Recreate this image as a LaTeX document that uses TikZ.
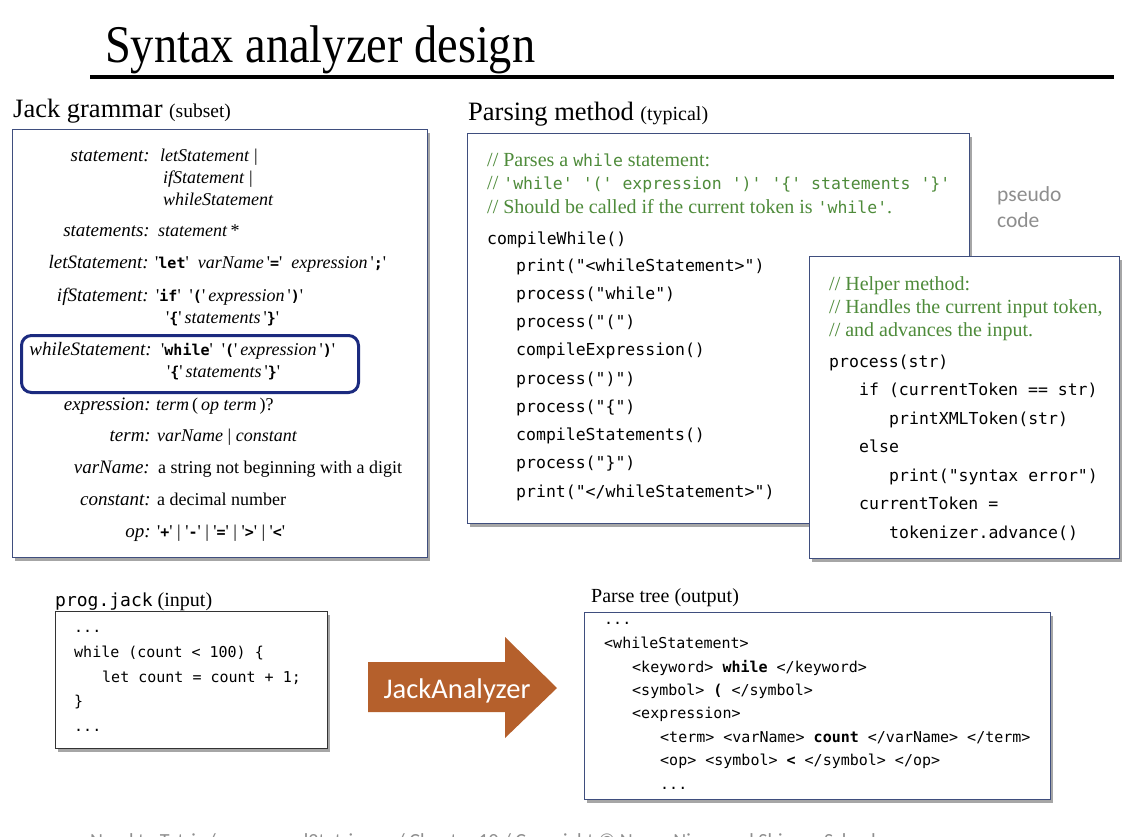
\documentclass[tikz,border=0pt]{standalone}
\usepackage{fontspec}
\setmainfont{Liberation Serif}[Ligatures=TeXOff]
\newfontfamily\cmono{DejaVu Sans Mono}[Ligatures=TeXOff]
\newfontfamily\csans{Carlito}[Ligatures=TeXOff]
\usetikzlibrary{shadows}
\definecolor{boxline}{HTML}{3F4E7E}
\definecolor{navy}{HTML}{1B2A7F}
\definecolor{cgreen}{HTML}{4E8B3A}
\definecolor{rust}{HTML}{B5602C}
\definecolor{pgray}{HTML}{8E8E8E}
\newcommand\mygfont{\fontsize{18}{21}\selectfont}
\newcommand\mylfont{\fontsize{19}{22}\selectfont}
\newcommand\mycomfont{\fontsize{20}{23}\selectfont}
\newcommand\mycm{\cmono\fontsize{16.5}{20}\selectfont}
\newcommand\mysm{\cmono\fontsize{15}{18}\selectfont}
\newcommand\kw[1]{{\cmono\bfseries\fontsize{15}{18}\selectfont #1}}
\tikzset{
  panel/.style={draw=boxline, line width=1.1pt, fill=white, inner sep=0pt, anchor=north west,
    drop shadow={shadow xshift=2.5pt, shadow yshift=-3pt, opacity=0.35, fill=black}},
  t/.style={inner sep=0pt, anchor=base west},
  gl/.style={inner sep=0pt, anchor=base east, font=\mylfont\itshape},
  gr/.style={t, font=\mygfont},
  com/.style={t, font=\mycomfont, text=cgreen},
  code/.style={t, font=\mycm},
  scode/.style={t, font=\mysm},
  head/.style={t, font=\fontsize{26.5}{30}\selectfont},
}
\begin{document}
\begin{tikzpicture}[x=1pt,y=-1pt]
\fill[white] (0,0) rectangle (1144,836);
\useasboundingbox (0,0) rectangle (1144,836);

% title
\node[t] (title) at (105,62) {\scalebox{0.875}[1]{\fontsize{53}{60}\selectfont Syntax analyzer design}};
\coordinate (rl) at (90,77);
\coordinate (rr) at (1114,77);
\draw[line width=3.5pt] (rl) -- (rr);

% headings
\node[head] (hg) at (13,117) {Jack grammar {\fontsize{19.5}{22}\selectfont (subset)}};
\node[head] (hp) at (468,120) {Parsing method {\fontsize{20}{22}\selectfont (typical)}};

% grammar box
\node[panel, minimum width=415pt, minimum height=428pt] (gbox) at (12,129) {};
\node[gl] (g1) at (150,161) {statement:};
\node[gr] (g1a) at (160,161) {\textit{letStatement} |};
\node[gr] (g1b) at (163,183) {\textit{ifStatement} |};
\node[gr] (g1c) at (163,205) {\textit{whileStatement}};
\node[gl] (g2) at (150,236) {statements:};
\node[gr] (g2a) at (158,236) {\textit{statement}\,*};
\node[gl] (g3) at (149,268) {letStatement:};
\node[gr] (g3a) at (155,268) {'\kw{let}'\ \ \textit{varName}\,'\kw{=}'\ \ \textit{expression}\,'\kw{;}'};
\node[gl] (g4) at (149,301) {ifStatement:};
\node[gr] (g4a) at (156,301) {'\kw{if}'\ \ '\kw{(}'\,\textit{expression}\,'\kw{)}'};
\node[gr] (g4b) at (166,323) {'\kw{\{}'\,\textit{statements}\,'\kw{\}}'};
\node[draw=navy, line width=3pt, rounded corners=10pt, minimum width=337pt, minimum height=57pt, anchor=north west, inner sep=0pt] (hl) at (20,334) {};
\node[gl] (g5) at (152,355) {whileStatement:};
\node[gr] (g5a) at (161,355) {'\kw{while}'\ \ '\kw{(}'\,\textit{expression}\,'\kw{)}'};
\node[gr] (g5b) at (167,377) {'\kw{\{}'\,\textit{statements}\,'\kw{\}}'};
\node[gl] (g6) at (151,410) {expression:};
\node[gr] (g6a) at (156,410) {\textit{term}\,(\,\textit{op term}\,)?};
\node[gl] (g7) at (151,441) {term:};
\node[gr] (g7a) at (157,441) {\textit{varName} | \textit{constant}};
\node[gl] (g8) at (150,473) {varName:};
\node[gr] (g8a) at (158,473) {a string not beginning with a digit};
\node[gl] (g9) at (151,505) {constant:};
\node[gr] (g9a) at (157,505) {a decimal number};
\node[gl] (g10) at (151,537) {op:};
\node[gr] (g10a) at (157,537) {'\kw{+}' | '\kw{-}' | '\kw{=}' | '\kw{>}' | '\kw{<}'};

% parsing method box
\node[panel, minimum width=502pt, minimum height=390pt] (pbox) at (467,133) {};
\node[com] (c1) at (487,166) {// Parses a {\mycm while} statement:};
\node[com] (c2) at (487,189) {// {\mycm 'while' '(' expression ')' '\{' statements '\}'}};
\node[com] (c3) at (487,213) {// Should be called if the current token is {\mycm 'while'}.};
\node[code] (cw) at (487,244) {compileWhile()};
\foreach \s [count=\i from 0] in {print("<whileStatement>"), process("while"), process("("),
  compileExpression(), process(")"), process("\{"), compileStatements(), process("\}"),
  print("</whileStatement>")}
  \node[code] (pl\i) at (516,{271+28.25*\i}) {\s};

% pseudo code label
\node[t, font=\csans\fontsize{21.5}{24}\selectfont, text=pgray] (ps1) at (997,201) {pseudo};
\node[t, font=\csans\fontsize{21.5}{24}\selectfont, text=pgray] (ps2) at (997,227) {code};

% helper box
\node[panel, minimum width=310pt, minimum height=302pt] (hbox) at (809,256) {};
\node[com] (h1) at (829,290) {// Helper method:};
\node[com] (h2) at (829,313) {// Handles the current input token,};
\node[com] (h3) at (829,336) {// and advances the input.};
\node[code] (hc1) at (829,367) {process(str)};
\node[code] (hc2) at (859,395) {if (currentToken == str)};
\node[code] (hc3) at (889,424) {printXMLToken(str)};
\node[code] (hc4) at (859,452) {else};
\node[code] (hc5) at (889,481) {print("syntax error")};
\node[code] (hc6) at (859,509) {currentToken =};
\node[code] (hc7) at (889,538) {tokenizer.advance()};

% prog.jack
\node[t] (inl) at (55,606) {{\cmono\fontsize{18}{20}\selectfont prog.jack}\hspace{5pt}{\fontsize{20}{22}\selectfont(input)}};
\node[panel, draw=black!80, minimum width=272pt, minimum height=137pt] (ibox) at (55,611) {};
\node[scode] (i1) at (74,632) {...};
\node[scode] (i2) at (74,657) {while (count < 100) \{};
\node[scode] (i3) at (102,682) {let count = count + 1;};
\node[scode] (i4) at (74,706) {\}};
\node[scode] (i5) at (74,731) {...};

% arrow
\fill[rust] (368,662) -- (505,662) -- (505,637) -- (557,688) -- (505,738) -- (505,712) -- (368,712) -- cycle;
\node[inner sep=0pt, anchor=base, text=white, font=\csans\fontsize{28.5}{32}\selectfont] (ja) at (457,698) {JackAnalyzer};

% parse tree
\node[t, font=\fontsize{20}{22}\selectfont] (outl) at (591,602) {Parse tree (output)};
\node[panel, minimum width=466pt, minimum height=187pt] (obox) at (584,612) {};
\node[scode] (o1) at (604,624) {...};
\node[scode] (o2) at (604,648) {<whileStatement>};
\node[scode] (o3) at (632,672) {<keyword> \textbf{while} </keyword>};
\node[scode] (o4) at (632,695) {<symbol> \textbf{(} </symbol>};
\node[scode] (o5) at (632,718) {<expression>};
\node[scode] (o6) at (660,742) {<term> <varName> \textbf{count} </varName> </term>};
\node[scode] (o7) at (660,765) {<op> <symbol> \textbf{<} </symbol> </op>};
\node[scode] (o8) at (660,789) {...};

% footer (cut off at the bottom edge, as in the reference)
\node[t, font=\csans\fontsize{20}{22}\selectfont, text=pgray] (foot) at (90,847) {Nand to Tetris / www.nand2tetris.org / Chapter 10 / Copyright © Noam Nisan and Shimon Schocken};
\end{tikzpicture}
\end{document}
